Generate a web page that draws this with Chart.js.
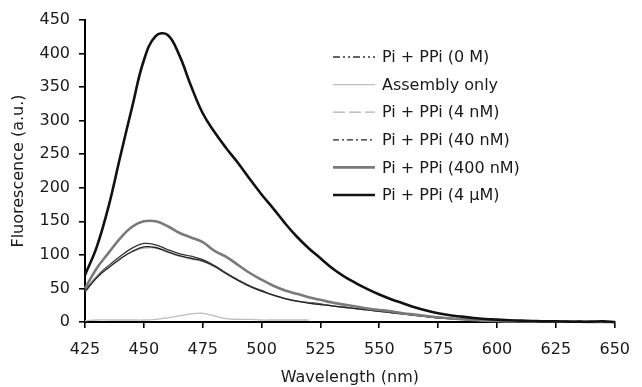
<!DOCTYPE html>
<html>
<head>
<meta charset="utf-8">
<script src="https://cdn.jsdelivr.net/npm/chart.js@4/dist/chart.umd.min.js"></script>
<style>
  html, body { margin: 0; padding: 0; background: #fff; }
  #wrap { width: 642px; height: 387px; }
</style>
</head>
<body>
<div id="wrap"><canvas id="canvas" width="642" height="387"></canvas></div>
<script>
// wavelengths, 5 nm steps
const wavelengths = [425, 430, 435, 440, 445, 450, 455, 460, 465, 470, 475, 480, 485, 490, 495, 500,
    505, 510, 515, 520, 525, 530, 535, 540, 545, 550, 555, 560, 565, 570, 575, 580, 585, 590, 595, 600,
    605, 610, 615, 620, 625, 630, 635, 640, 645, 650];

const seriesLabels = ['Pi + PPi (0 M)', 'Assembly only', 'Pi + PPi (4 nM)', 'Pi + PPi (40 nM)',
    'Pi + PPi (400 nM)', 'Pi + PPi (4 \u00b5M)'];

const pp0M = [47, 68, 84, 98, 110, 117, 115, 108, 102, 98, 93, 84, 73, 63, 54, 47,
    40, 35, 31, 29, 27, 24, 22, 20, 18, 16, 14, 12, 10, 8, 6, 5, 4, 3, 2, 1.5,
    1, 1, 0.5, 0.5, 0.5, 0.5, 0.5, 0, 0, 0];

// assembly only, recorded up to 520 nm
const assembly = [2, 3, 3, 3, 3, 3, 4, 6, 9, 12, 13, 9, 5, 4, 4, 3, 3, 3, 3, 3];

const pp4nM = [46, 67, 82, 95, 105, 110, 110, 104, 98, 94, 90, 82, 72, 62, 53, 46,
    40, 35, 31, 28, 26, 24, 22, 20, 18, 16, 14, 12, 10, 8, 6, 5, 4, 3, 2, 1.5,
    1, 1, 0.5, 0.5, 0.5, 0.5, 0.5, 0, 0, 0];

const pp40nM = [45, 66, 81, 94, 105, 112, 111, 105, 99, 95, 91, 83, 72, 62, 53, 46,
    40, 35, 31, 28, 26, 24, 22, 20, 18, 16, 14, 12, 10, 8, 6, 5, 4, 3, 2, 1.5,
    1, 1, 0.5, 0.5, 0.5, 0.5, 0.5, 0, 0, 0];

const pp400nM = [50, 80, 103, 125, 142, 150, 150, 143, 133, 126, 119, 106, 97, 85, 73, 63,
    54, 47, 42, 37, 33, 29, 26, 23, 20, 18, 16, 13, 11, 9, 7, 5.5, 4, 3, 2, 1.5,
    1, 1, 0.5, 0.5, 0.5, 0.5, 0.5, 0, 0, 0];

const pp4uM = [70, 112, 172, 247, 320, 390, 426, 428, 398, 352, 311, 283, 259, 237, 213, 190,
    169, 147, 127, 110, 95, 80, 68, 58, 49, 41, 34, 28, 22, 17, 13, 10, 8, 6, 4.5, 3.5,
    2.5, 2, 1.5, 1, 1, 0.5, 0.5, 0.5, 1, 0];

const xTicks = [425, 450, 475, 500, 525, 550, 575, 600, 625, 650];
const yTicks = [0, 50, 100, 150, 200, 250, 300, 350, 400, 450];

function pts(vals) {
    return vals.map((v, i) => ({ x: wavelengths[i], y: v }));
}

// styles: [color, width, legend dash]
const styles = [
    ['#333333', 1.3, [7, 3, 2, 3, 2, 3]],
    ['#bdbdbd', 1.3, []],
    ['#b0b0b0', 1.3, [12, 4]],
    ['#222222', 1.3, [6, 3, 2, 3]],
    ['#7a7a7a', 2.6, []],
    ['#111111', 2.6, []]
];
const seriesData = [pp0M, assembly, pp4nM, pp40nM, pp400nM, pp4uM];

const FONT = 'DejaVu Sans';
const TEXT = '#1a1a1a';

// legend drawn inside the plot area, on the right
const insideLegend = {
    id: 'insideLegend',
    afterDraw(chart) {
        const c = chart.ctx;
        const x0 = 333, x1 = 375, tx = 382;
        c.save();
        c.font = '16px "' + FONT + '"';
        c.textBaseline = 'middle';
        c.fillStyle = TEXT;
        seriesLabels.forEach((lab, i) => {
            const y = 57 + i * 27.6;
            const s = styles[i];
            c.beginPath();
            c.setLineDash(s[2]);
            c.strokeStyle = s[0];
            c.lineWidth = s[1];
            c.moveTo(x0, y);
            c.lineTo(x1, y);
            c.stroke();
            c.setLineDash([]);
            c.fillText(lab, tx, y + 1);
        });
        c.restore();
    }
};

const canvas = document.getElementById('canvas');
const ctx = canvas.getContext('2d');

new Chart(ctx, {
    type: 'line',
    data: {
        datasets: seriesData.map((vals, i) => ({
            label: seriesLabels[i],
            data: pts(vals),
            borderColor: styles[i][0],
            borderWidth: styles[i][1],
            pointRadius: 0,
            tension: 0.4,
            fill: false,
            clip: false,
            order: 6 - i
        }))
    },
    options: {
        responsive: false,
        animation: false,
        maintainAspectRatio: false,
        layout: { padding: { left: 0, right: 19, top: 20, bottom: 0 } },
        scales: {
            x: {
                type: 'linear',
                min: 425,
                max: 650,
                afterBuildTicks: (s) => { s.ticks = xTicks.map(v => ({ value: v })); },
                afterFit: (s) => { s.height = 65; },
                ticks: { color: TEXT, font: { family: FONT, size: 16 }, padding: 12, maxRotation: 0 },
                grid: { drawOnChartArea: false, drawTicks: true, tickLength: 6, color: '#000', lineWidth: 1.6 },
                border: { color: '#000', width: 2 },
                title: { display: true, text: 'Wavelength (nm)', color: TEXT, font: { family: FONT, size: 16 }, padding: { top: 2, bottom: 0 } }
            },
            y: {
                min: 0,
                max: 450,
                afterBuildTicks: (s) => { s.ticks = yTicks.map(v => ({ value: v })); },
                afterFit: (s) => { s.width = 85; },
                ticks: { color: TEXT, font: { family: FONT, size: 16 }, padding: 9 },
                grid: { drawOnChartArea: false, drawTicks: true, tickLength: 6, color: '#000', lineWidth: 1.6 },
                border: { color: '#000', width: 2 },
                title: { display: true, text: 'Fluorescence (a.u.)', color: TEXT, font: { family: FONT, size: 16 }, padding: { top: 9, bottom: 0 } }
            }
        },
        plugins: {
            legend: { display: false },
            tooltip: { enabled: false }
        }
    },
    plugins: [insideLegend]
});
</script>
</body>
</html>
